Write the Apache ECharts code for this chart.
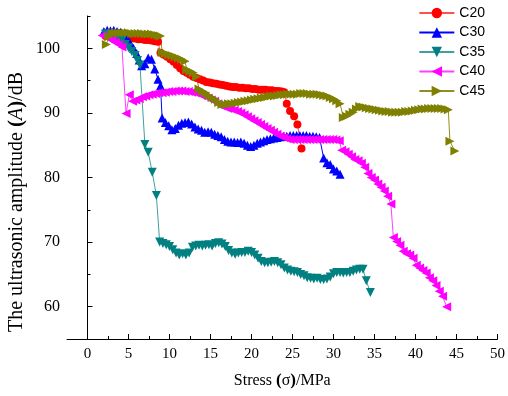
<!DOCTYPE html>
<html>
<head>
<meta charset="utf-8">
<script src="https://cdn.jsdelivr.net/npm/echarts@6.0.0/dist/echarts.min.js"></script>
<style>html,body{margin:0;padding:0;background:#fff}#c{width:508px;height:396px}</style>
</head>
<body>
<div id="c"></div>
<script>
const seriesNames = ['C20', 'C30', 'C35', 'C40', 'C45'];
const xMajorTicks = [0, 5, 10, 15, 20, 25, 30, 35, 40, 45, 50];
const xMinorTicks = [2.5, 7.5, 12.5, 17.5, 22.5, 27.5, 32.5, 37.5, 42.5, 47.5];
const yMajorTicks = [60, 70, 80, 90, 100];
const yMinorTicks = [65, 75, 85, 95, 105];

const c20 = [[2.2,101.9],[2.6,101.9],[3.0,101.8],[3.4,101.8],[3.8,101.7],[4.2,101.7],[4.6,101.6],[5.0,101.6],[5.4,101.5],[5.8,101.5],[6.2,101.4],[6.6,101.4],[7.0,101.3],[7.4,101.3],[7.8,101.2],[8.2,101.1],[8.6,101.0],[8.9,99.3],[9.3,99.0],[9.7,98.7],[10.1,98.3],[10.5,97.9],[10.9,97.4],[11.3,96.9],[11.7,96.5],[12.1,96.2],[12.5,95.9],[12.9,95.6],[13.3,95.4],[13.7,95.2],[14.1,95.0],[14.5,94.8],[14.9,94.7],[15.3,94.6],[15.7,94.5],[16.1,94.4],[16.5,94.3],[16.9,94.2],[17.3,94.1],[17.7,94.0],[18.1,94.0],[18.5,93.9],[18.9,93.9],[19.3,93.8],[19.7,93.8],[20.1,93.7],[20.5,93.7],[20.9,93.6],[21.3,93.6],[21.7,93.6],[22.1,93.5],[22.5,93.5],[22.9,93.4],[23.3,93.4],[23.7,93.3],[24.0,93.2],[24.3,91.4],[24.7,90.3],[25.2,89.5],[25.6,88.2],[26.1,84.5]];

const c30 = [[2.0,102.6],[2.4,102.8],[2.8,102.7],[3.2,102.8],[3.6,102.6],[4.0,102.5],[4.4,102.2],[4.8,101.6],[5.2,100.8],[5.6,100.0],[6.0,99.2],[6.3,98.2],[6.6,97.3],[7.0,97.6],[7.4,98.5],[7.8,98.3],[8.2,96.8],[8.6,95.2],[8.9,94.2],[9.1,89.2],[9.5,88.5],[9.9,88.0],[10.3,87.4],[10.7,87.6],[11.1,88.1],[11.5,88.4],[11.9,88.5],[12.3,88.6],[12.7,88.3],[13.1,87.8],[13.5,87.5],[13.9,87.3],[14.3,87.0],[14.7,87.1],[15.1,87.0],[15.5,86.7],[15.9,86.5],[16.3,86.3],[16.7,85.9],[17.1,85.6],[17.5,85.5],[17.9,85.5],[18.3,85.4],[18.7,85.5],[19.1,85.3],[19.5,85.0],[19.9,84.8],[20.3,85.0],[20.7,85.3],[21.1,85.5],[21.5,85.7],[21.9,85.9],[22.3,86.0],[22.7,86.1],[23.1,86.2],[23.5,86.3],[23.9,86.4],[24.3,86.4],[24.7,86.5],[25.1,86.5],[25.5,86.5],[25.9,86.5],[26.3,86.5],[26.7,86.5],[27.1,86.4],[27.5,86.4],[27.9,86.3],[28.3,86.2],[28.8,83.0],[29.2,82.3],[29.6,82.0],[30.0,81.3],[30.4,81.0],[30.8,80.5]];

const c35 = [[2.2,102.2],[2.6,102.2],[3.0,102.1],[3.4,101.9],[3.8,101.6],[4.2,101.2],[4.6,100.6],[5.0,100.1],[5.4,99.5],[5.8,98.9],[6.1,98.1],[6.4,97.4],[7.0,85.1],[7.4,83.9],[7.9,80.8],[8.4,77.2],[8.8,70.0],[9.2,69.8],[9.6,69.6],[10.0,69.3],[10.4,68.8],[10.8,68.3],[11.2,68.0],[11.6,68.2],[12.0,68.0],[12.4,68.3],[12.8,69.2],[13.2,69.4],[13.6,69.5],[14.0,69.4],[14.4,69.5],[14.8,69.6],[15.2,69.4],[15.6,69.8],[16.0,69.9],[16.4,69.7],[16.8,69.3],[17.2,68.7],[17.6,68.3],[18.0,68.1],[18.4,68.3],[18.8,68.4],[19.2,68.4],[19.6,68.6],[20.0,68.4],[20.4,68.0],[20.8,67.5],[21.2,67.0],[21.6,66.8],[22.0,66.8],[22.4,66.9],[22.8,67.0],[23.2,66.8],[23.6,66.5],[24.0,66.0],[24.4,65.7],[24.8,65.5],[25.2,65.4],[25.6,65.3],[26.0,65.0],[26.4,64.8],[26.8,64.5],[27.2,64.4],[27.6,64.3],[28.0,64.4],[28.4,64.2],[28.8,64.2],[29.2,64.3],[29.6,64.6],[30.0,65.1],[30.4,65.3],[30.8,65.3],[31.2,65.2],[31.6,65.3],[32.0,65.3],[32.4,65.5],[32.8,65.7],[33.2,65.8],[33.6,65.8],[34.0,64.0],[34.5,62.2]];

const c40 = [[1.8,102.0],[2.2,101.8],[2.6,101.5],[3.0,101.2],[3.4,100.9],[3.8,100.6],[4.2,100.2],[4.7,89.9],[5.1,92.8],[5.5,91.8],[5.9,92.0],[6.3,92.2],[6.7,92.5],[7.1,92.6],[7.5,92.8],[7.9,92.9],[8.3,93.0],[8.7,93.1],[9.1,93.1],[9.5,93.2],[9.9,93.3],[10.3,93.3],[10.7,93.4],[11.1,93.4],[11.5,93.4],[11.9,93.3],[12.3,93.3],[12.7,93.2],[13.1,93.1],[13.5,93.0],[13.9,92.7],[14.3,92.6],[14.7,92.3],[15.1,92.0],[15.5,91.8],[15.9,91.4],[16.3,91.1],[16.7,90.9],[17.1,90.7],[17.5,90.6],[17.9,90.4],[18.3,90.2],[18.7,90.0],[19.1,89.7],[19.5,89.4],[19.9,89.1],[20.3,88.8],[20.7,88.5],[21.1,88.2],[21.5,87.9],[21.9,87.6],[22.3,87.3],[22.7,87.0],[23.1,86.7],[23.5,86.4],[23.9,86.2],[24.3,86.0],[24.7,85.9],[25.1,85.9],[25.5,85.9],[25.9,85.9],[26.3,85.9],[26.7,85.9],[27.1,85.9],[27.5,85.9],[27.9,85.9],[28.3,85.9],[28.7,85.9],[29.1,85.9],[29.5,85.9],[29.9,85.9],[30.3,85.8],[30.7,85.7],[31.0,84.2],[31.4,84.0],[31.8,83.6],[32.2,83.2],[32.6,82.8],[33.0,82.6],[33.4,82.2],[33.8,81.6],[34.2,80.6],[34.6,80.0],[35.0,79.6],[35.4,79.0],[35.8,78.5],[36.2,77.9],[36.6,77.1],[37.0,75.9],[37.3,70.7],[37.7,70.1],[38.1,69.5],[38.5,68.6],[38.9,68.2],[39.3,68.0],[39.7,67.5],[40.1,66.4],[40.5,66.0],[40.9,65.6],[41.3,65.2],[41.7,64.5],[42.1,64.0],[42.5,63.3],[42.9,62.4],[43.3,61.6],[43.8,60.0]];

const c45 = [[2.3,100.6],[2.6,101.8],[3.0,102.3],[3.4,102.4],[3.8,102.4],[4.2,102.4],[4.6,102.4],[5.0,102.4],[5.4,102.3],[5.8,102.3],[6.2,102.3],[6.6,102.3],[7.0,102.2],[7.4,102.2],[7.8,102.2],[8.2,102.1],[8.6,102.0],[8.9,101.9],[9.1,99.4],[9.5,99.2],[9.9,99.0],[10.3,98.9],[10.7,98.7],[11.1,98.5],[11.5,98.3],[11.9,98.0],[12.1,96.7],[12.5,96.5],[12.9,96.2],[13.3,95.6],[13.6,93.7],[14.0,93.4],[14.4,93.1],[14.8,92.7],[15.2,92.4],[15.6,92.1],[16.0,91.6],[16.4,91.3],[16.8,91.3],[17.2,91.4],[17.6,91.4],[18.0,91.5],[18.4,91.6],[18.8,91.7],[19.2,91.8],[19.6,91.9],[20.0,92.0],[20.4,92.1],[20.8,92.2],[21.2,92.3],[21.6,92.4],[22.0,92.5],[22.4,92.6],[22.8,92.6],[23.2,92.7],[23.6,92.8],[24.0,92.8],[24.4,92.9],[24.8,92.9],[25.2,92.9],[25.6,92.9],[26.0,93.0],[26.4,93.0],[26.8,93.0],[27.2,92.9],[27.6,92.9],[28.0,92.9],[28.4,92.8],[28.8,92.7],[29.2,92.6],[29.6,92.4],[30.0,92.2],[30.4,91.9],[30.8,91.4],[31.2,89.3],[31.6,89.5],[32.0,89.8],[32.4,90.1],[32.8,90.6],[33.2,91.0],[33.6,90.9],[34.0,90.8],[34.4,90.7],[34.8,90.6],[35.2,90.5],[35.6,90.4],[36.0,90.3],[36.4,90.2],[36.8,90.2],[37.2,90.1],[37.6,90.1],[38.0,90.1],[38.4,90.1],[38.8,90.2],[39.2,90.2],[39.6,90.3],[40.0,90.4],[40.4,90.5],[40.8,90.6],[41.2,90.6],[41.6,90.7],[42.0,90.7],[42.4,90.7],[42.8,90.7],[43.2,90.7],[43.6,90.6],[44.0,90.5],[44.2,85.6],[44.8,84.1]];

const seriesData = [c20, c30, c35, c40, c45];
const colors = ['#ff0000', '#0000ff', '#008080', '#ff00ff', '#808000'];
const lineColors = ['#ff5050', '#0000ff', '#40a0a0', '#ff40ff', '#909020'];
const symbols = ['circle', 'triangle', 'triangle', 'triangle', 'triangle'];
const rotations = [0, 0, 180, 90, -90];
const sizes = [8, 9, 9, 9, 9];

const serif = 'Liberation Serif';
const chart = echarts.init(document.getElementById('c'), null, {renderer: 'canvas'});

const axisLineStyle = {show: true, lineStyle: {color: '#000', width: 1}};

const option = {
  animation: false,
  backgroundColor: '#fff',
  grid: {left: 67, right: 6, top: 16, bottom: 57, containLabel: false},
  legend: {
    orient: 'vertical', right: 18, top: 1,
    itemWidth: 35, itemHeight: 13, itemGap: 5.5,
    textStyle: {fontFamily: 'Liberation Sans', fontSize: 14, color: '#000'},
    data: seriesNames
  },
  xAxis: [
    {
      type: 'value', min: -2.5, max: 50,
      axisLine: axisLineStyle,
      axisTick: {show: true, inside: true, length: 5, customValues: xMajorTicks, lineStyle: {color: '#000'}},
      axisLabel: {customValues: xMajorTicks, color: '#000', fontFamily: serif, fontSize: 15, margin: 8},
      splitLine: {show: false},
      name: 'Stress {b|(}σ{b|)}/MPa', nameLocation: 'middle', nameGap: 33,
      nameTextStyle: {color: '#000', fontFamily: serif, fontSize: 16,
        rich: {b: {fontFamily: serif, fontSize: 17, fontWeight: 'bold', color: '#000'}}}
    },
    {
      type: 'value', min: -2.5, max: 50, position: 'bottom',
      axisLine: {show: false},
      axisTick: {show: true, inside: true, length: 3, customValues: xMinorTicks, lineStyle: {color: '#000'}},
      axisLabel: {show: false}, splitLine: {show: false}
    }
  ],
  yAxis: [
    {
      type: 'value', min: 55, max: 105,
      axisLine: axisLineStyle,
      axisTick: {show: true, inside: true, length: 5, customValues: yMajorTicks, lineStyle: {color: '#000'}},
      axisLabel: {customValues: yMajorTicks, color: '#000', fontFamily: serif, fontSize: 16, margin: 7},
      splitLine: {show: false}
    },
    {
      type: 'value', min: 55, max: 105, position: 'left',
      axisLine: {show: false},
      axisTick: {show: true, inside: true, length: 3, customValues: yMinorTicks, lineStyle: {color: '#000'}},
      axisLabel: {show: false}, splitLine: {show: false}
    }
  ],
  graphic: [{
    type: 'text', x: 17, y: 202, rotation: Math.PI / 2,
    style: {
      text: 'The ultrasonic amplitude {b|(}{i|A}{b|)}/dB',
      fontFamily: serif, fontSize: 20, fill: '#000',
      align: 'center', verticalAlign: 'middle',
      rich: {
        b: {fontFamily: serif, fontSize: 21, fontWeight: 'bold', fill: '#000'},
        i: {fontFamily: serif, fontSize: 20, fontStyle: 'italic', fill: '#000'}
      }
    }
  }],
  series: seriesNames.map((n, i) => ({
    name: n, type: 'line', data: seriesData[i],
    xAxisIndex: 0, yAxisIndex: 0,
    symbol: symbols[i], symbolSize: sizes[i], symbolRotate: rotations[i],
    showAllSymbol: true,
    itemStyle: {color: colors[i]},
    lineStyle: {color: lineColors[i], width: 1},
    emphasis: {disabled: true}
  }))
};
chart.setOption(option);
</script>
</body>
</html>
